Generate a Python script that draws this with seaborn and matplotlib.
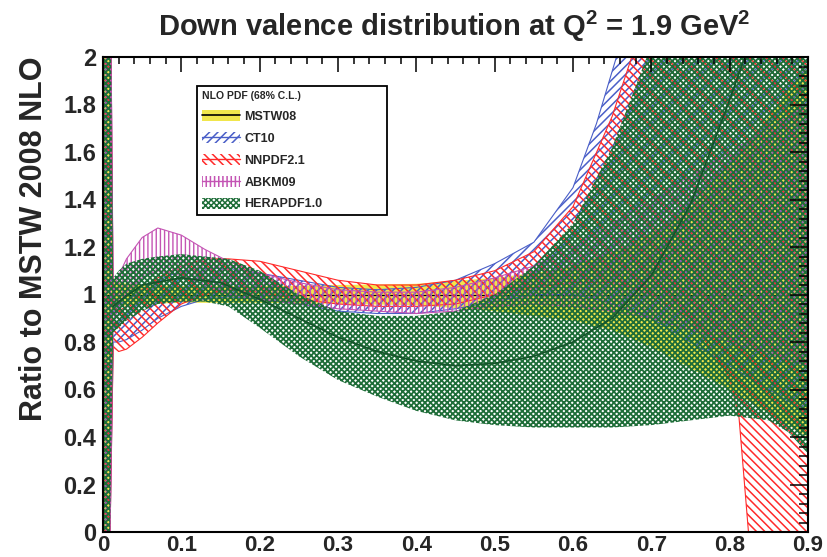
import matplotlib
matplotlib.use("Agg")
import matplotlib.pyplot as plt
import seaborn as sns
from matplotlib.patches import Patch
from matplotlib.lines import Line2D
from matplotlib.legend_handler import HandlerTuple
from matplotlib.ticker import FixedLocator, MultipleLocator

# ---------------- data ----------------
XTICKS = [0.0, 0.1, 0.2, 0.3, 0.4, 0.5, 0.6, 0.7, 0.8, 0.9]
XTICKLABELS = ["0", "0.1", "0.2", "0.3", "0.4", "0.5", "0.6", "0.7", "0.8", "0.9"]
YTICKS = [0.0, 0.2, 0.4, 0.6, 0.8, 1.0, 1.2, 1.4, 1.6, 1.8, 2.0]
YTICKLABELS = ["0", "0.2", "0.4", "0.6", "0.8", "1", "1.2", "1.4", "1.6", "1.8", "2"]

MSTW_X = [0.0, 0.009, 0.013, 0.02, 0.05, 0.1, 0.2, 0.3, 0.4, 0.5, 0.55, 0.6, 0.65, 0.7, 0.75, 0.8, 0.85, 0.9]
MSTW_LO = [0.0, 0.0, 0.93, 0.95, 0.96, 0.965, 0.965, 0.96, 0.955, 0.93, 0.91, 0.89, 0.85, 0.78, 0.69, 0.6, 0.5, 0.4]
MSTW_HI = [2.5, 2.5, 1.07, 1.05, 1.04, 1.035, 1.035, 1.04, 1.045, 1.07, 1.09, 1.12, 1.18, 1.26, 1.37, 1.55, 1.75, 1.97]
MSTW_CENTRAL = [1.0, 1.0, 1.0, 1.0, 1.0, 1.0, 1.0, 1.0, 1.0, 1.0, 1.0, 1.0, 1.0, 1.0, 1.0, 1.0, 1.0, 1.0]

CT10_X = [0.0, 0.009, 0.013, 0.02, 0.03, 0.05, 0.07, 0.1, 0.13, 0.16, 0.2, 0.25, 0.3, 0.35, 0.4, 0.45, 0.5, 0.55, 0.6, 0.63, 0.66, 0.7, 0.8, 0.9]
CT10_LO = [0.0, 0.0, 0.8, 0.8, 0.81, 0.85, 0.9, 0.95, 0.98, 0.99, 0.98, 0.96, 0.93, 0.92, 0.92, 0.94, 0.97, 1.0, 1.0, 0.98, 0.95, 0.9, 0.7, 0.5]
CT10_HI = [2.5, 2.5, 0.97, 0.96, 0.97, 1.02, 1.06, 1.1, 1.11, 1.11, 1.09, 1.06, 1.03, 1.02, 1.03, 1.06, 1.13, 1.22, 1.45, 1.72, 2.05, 2.5, 3.0, 3.0]

NNPDF_X = [0.0, 0.009, 0.013, 0.02, 0.03, 0.05, 0.07, 0.1, 0.13, 0.16, 0.2, 0.25, 0.3, 0.35, 0.4, 0.45, 0.5, 0.55, 0.6, 0.65, 0.675, 0.7, 0.75, 0.8, 0.812, 0.824, 0.9]
NNPDF_LO = [0.0, 0.0, 0.78, 0.76, 0.77, 0.82, 0.88, 0.96, 1.0, 1.02, 1.01, 0.98, 0.96, 0.95, 0.95, 0.96, 1.0, 1.03, 1.05, 1.05, 1.03, 1.0, 0.9, 0.65, 0.48, 0.0, 0.0]
NNPDF_HI = [2.5, 2.5, 0.95, 0.93, 0.95, 1.02, 1.07, 1.12, 1.15, 1.15, 1.14, 1.1, 1.06, 1.04, 1.04, 1.06, 1.1, 1.18, 1.37, 1.75, 2.0, 2.4, 3.0, 3.0, 3.0, 3.0, 3.0]

ABKM_X = [0.0, 0.009, 0.013, 0.02, 0.03, 0.05, 0.07, 0.1, 0.13, 0.16, 0.2, 0.25, 0.3, 0.35, 0.4, 0.45, 0.5, 0.55, 0.6, 0.65, 0.7, 0.75, 0.8, 0.85, 0.9]
ABKM_LO = [0.0, 0.0, 0.88, 0.95, 1.01, 1.07, 1.1, 1.08, 1.04, 1.0, 0.98, 0.96, 0.94, 0.93, 0.92, 0.93, 0.95, 0.96, 0.95, 0.93, 0.9, 0.85, 0.8, 0.75, 0.7]
ABKM_HI = [2.5, 2.5, 1.02, 1.08, 1.15, 1.24, 1.28, 1.25, 1.19, 1.14, 1.09, 1.05, 1.02, 1.01, 1.01, 1.03, 1.07, 1.12, 1.2, 1.3, 1.4, 1.5, 1.6, 1.7, 1.8]

HERA_X = [0.0, 0.009, 0.013, 0.02, 0.03, 0.05, 0.07, 0.1, 0.13, 0.16, 0.2, 0.25, 0.3, 0.35, 0.4, 0.45, 0.5, 0.55, 0.6, 0.65, 0.7, 0.75, 0.8, 0.85, 0.875, 0.9]
HERA_LO = [0.0, 0.0, 0.84, 0.86, 0.89, 0.93, 0.96, 0.97, 0.97, 0.95, 0.86, 0.74, 0.64, 0.57, 0.51, 0.47, 0.45, 0.44, 0.44, 0.44, 0.45, 0.47, 0.49, 0.47, 0.42, 0.33]
HERA_HI = [2.5, 2.5, 1.07, 1.1, 1.13, 1.15, 1.16, 1.17, 1.16, 1.15, 1.1, 1.0, 0.93, 0.91, 0.91, 0.93, 1.0, 1.12, 1.3, 1.62, 2.05, 3.0, 3.0, 3.0, 3.0, 3.0]
HERA_CX = [0.013, 0.02, 0.05, 0.1, 0.15, 0.2, 0.25, 0.3, 0.35, 0.4, 0.45, 0.5, 0.55, 0.6, 0.65, 0.7, 0.75, 0.8, 0.83]
HERA_CENTRAL = [0.95, 0.97, 1.04, 1.07, 1.05, 0.98, 0.9, 0.82, 0.76, 0.72, 0.7, 0.71, 0.74, 0.8, 0.9, 1.08, 1.38, 1.82, 2.1]

LABELS = ["MSTW08", "CT10", "NNPDF2.1", "ABKM09", "HERAPDF1.0"]
LEGEND_TITLE = "NLO PDF (68% C.L.)"
TITLE = r"Down valence distribution at Q$^2$ = 1.9 GeV$^2$"
YLABEL = "Ratio to MSTW 2008 NLO"

# ---------------- style ----------------
C_MSTW = "#f1e64c"
C_CT10 = "#4a5fc8"
C_NNPDF = "#ff2a2a"
C_ABKM = "#c454b4"
C_HERA = "#1e6d38"

H_CT10 = "////"
H_NNPDF = "\\\\\\\\"
H_ABKM = "||||"
H_HERA = "xxxxxx"

sns.set_style("white")
plt.rcParams["font.family"] = ["Liberation Sans", "DejaVu Sans"]
plt.rcParams["font.weight"] = "bold"
plt.rcParams["mathtext.fontset"] = "custom"
plt.rcParams["mathtext.rm"] = "Liberation Sans:bold"
plt.rcParams["mathtext.bf"] = "Liberation Sans:bold"
plt.rcParams["mathtext.default"] = "bf"
plt.rcParams["hatch.linewidth"] = 1.1

fig = plt.figure(figsize=(8.27, 5.57), dpi=100)
ax = fig.add_axes([103 / 827, 1 - 532 / 557, 705 / 827, 475 / 557])


def set_hlw(artist, w):
    if hasattr(artist, "set_hatch_linewidth"):
        artist.set_hatch_linewidth(w)


# MSTW08 solid yellow band + central line
ax.fill_between(MSTW_X, MSTW_LO, MSTW_HI, facecolor=C_MSTW, edgecolor="none", linewidth=0, zorder=1.0)
sns.lineplot(x=MSTW_X, y=MSTW_CENTRAL, color="black", linewidth=0.9, ax=ax, zorder=1.1)


def band(x, lo, hi, color, hatch, z, hlw, elw=0.8):
    coll = ax.fill_between(x, lo, hi, facecolor="none", edgecolor=color, hatch=hatch,
                           linewidth=0, zorder=z)
    set_hlw(coll, hlw)
    if elw > 0:
        ax.plot(x, lo, color=color, linewidth=elw, zorder=z)
        ax.plot(x, hi, color=color, linewidth=elw, zorder=z)
    return coll


band(CT10_X, CT10_LO, CT10_HI, C_CT10, H_CT10, 1.2, 1.1)
band(NNPDF_X, NNPDF_LO, NNPDF_HI, C_NNPDF, H_NNPDF, 1.25, 1.1)
band(ABKM_X, ABKM_LO, ABKM_HI, C_ABKM, H_ABKM, 1.3, 1.0)
band(HERA_X, HERA_LO, HERA_HI, C_HERA, H_HERA, 1.4, 1.3, elw=0)
sns.lineplot(x=HERA_CX, y=HERA_CENTRAL, color="#15552b", linewidth=1.3, ax=ax, zorder=1.45)

# axes
ax.set_xlim(0, 0.9)
ax.set_ylim(0, 2)
ax.xaxis.set_major_locator(FixedLocator(XTICKS))
ax.set_xticklabels(XTICKLABELS)
ax.yaxis.set_major_locator(FixedLocator(YTICKS))
ax.set_yticklabels(YTICKLABELS)
ax.xaxis.set_minor_locator(MultipleLocator(0.02))
ax.yaxis.set_minor_locator(MultipleLocator(0.04))
ax.tick_params(which="both", direction="in", top=True, right=True, color="black", width=1.1)
ax.tick_params(axis="x", which="major", length=10.5, labelsize=16, pad=2)
ax.tick_params(axis="x", which="minor", length=5)
ax.tick_params(axis="y", which="major", length=13, labelsize=17, pad=5)
ax.tick_params(axis="y", which="minor", length=6.5)
for lab in ax.get_xticklabels() + ax.get_yticklabels():
    lab.set_fontweight("bold")
for sp in ax.spines.values():
    sp.set_visible(True)
    sp.set_color("black")
    sp.set_linewidth(1.5)
    sp.set_zorder(11)
ax.xaxis.set_zorder(10)
ax.yaxis.set_zorder(10)
ax.set_xlabel("")
ax.set_ylabel(YLABEL, fontsize=22, fontweight="bold", loc="top", labelpad=10)

fig.text(454 / 827, 1 - 26 / 557, TITLE, ha="center", va="center", fontsize=21, fontweight="bold")

# legend
handles = [
    (Patch(facecolor=C_MSTW, edgecolor="none", linewidth=0), Line2D([], [], color="black", linewidth=1.2)),
    (Patch(facecolor="none", edgecolor=C_CT10, hatch=H_CT10, linewidth=0), Line2D([], [], color=C_CT10, linewidth=1.0)),
    (Patch(facecolor="none", edgecolor=C_NNPDF, hatch=H_NNPDF, linewidth=0), Line2D([], [], color=C_NNPDF, linewidth=1.0)),
    (Patch(facecolor="none", edgecolor=C_ABKM, hatch=H_ABKM, linewidth=0), Line2D([], [], color=C_ABKM, linewidth=1.0)),
    Patch(facecolor="none", edgecolor=C_HERA, hatch=H_HERA, linewidth=0),
]
leg = ax.legend(handles, LABELS, loc="upper left",
                bbox_to_anchor=(197 / 827, 1 - 213 / 557, 190 / 827, 127 / 557),
                bbox_transform=fig.transFigure, mode="expand",
                title=LEGEND_TITLE, alignment="left",
                title_fontproperties={"weight": "bold", "size": 7.5},
                prop={"weight": "bold", "size": 9},
                handler_map={tuple: HandlerTuple(ndivide=1)},
                frameon=True, fancybox=False, shadow=False, framealpha=1,
                handlelength=3.0, handleheight=1.0, labelspacing=0.72,
                handletextpad=0.4, borderpad=0.4, borderaxespad=0)
leg.get_frame().set_edgecolor("black")
leg.get_frame().set_linewidth(1.3)
leg.set_zorder(20)

fig.savefig("out.png", dpi=100)
